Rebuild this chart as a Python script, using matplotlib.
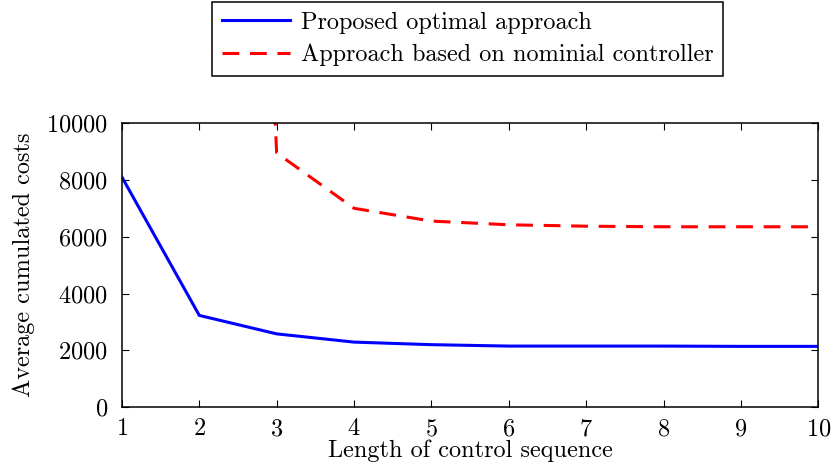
import numpy as np
import matplotlib
matplotlib.use("Agg")
import matplotlib.pyplot as plt

plt.rcParams.update({
    "font.family": ["cmr10", "DejaVu Serif"],
    "mathtext.fontset": "cm",
    "axes.formatter.use_mathtext": True,
    "font.size": 17.5,
})

seq_len = [1, 2, 3, 4, 5, 6, 7, 8, 9, 10]
cost_optimal = [8100, 3230, 2580, 2290, 2200, 2150, 2150, 2150, 2140, 2140]
cost_nominal = [np.nan, 65000, 8950, 7000, 6550, 6420, 6370, 6350, 6350, 6350]

fig = plt.figure(figsize=(8.35, 4.68), dpi=100)
ax = fig.add_axes([0.146, 0.130, 0.834, 0.607])

ax.plot(seq_len, cost_optimal, color="#0000ff", lw=2.2,
        label="Proposed optimal approach")
ax.plot(seq_len, cost_nominal, color="#ff0000", lw=2.2, dashes=(5.5, 3.5),
        label="Approach based on nominial controller")

ax.set_xlim(1, 10)
ax.set_ylim(0, 10000)
ax.set_xticks(range(1, 11))
ax.set_yticks(range(0, 10001, 2000))
ax.tick_params(direction="in", top=True, right=True, length=5, width=0.8)
ax.tick_params(axis="y", pad=10)
ax.tick_params(axis="x", pad=8)
for sp in ax.spines.values():
    sp.set_linewidth(1.1)

ax.set_xlabel("Length of control sequence", labelpad=-1)
ax.set_ylabel("Average cumulated costs", labelpad=8)

leg = fig.legend(loc="center", bbox_to_anchor=(0.56, 0.917), fancybox=False,
                 edgecolor="black", framealpha=1, handlelength=2.8,
                 borderpad=0.4, labelspacing=0.4, handletextpad=0.45,
                 borderaxespad=0)
leg.get_frame().set_linewidth(1.1)

fig.savefig("out.png", dpi=100)
